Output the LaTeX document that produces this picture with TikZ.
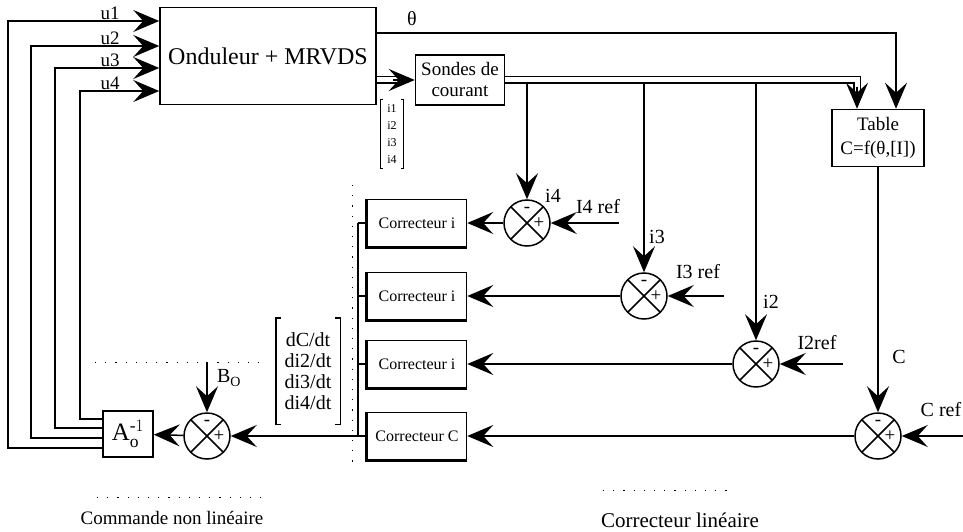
\documentclass[tikz,border=0pt]{standalone}
\usepackage{amsmath}
\usepackage{fontspec}
\setmainfont{Liberation Serif}
\usetikzlibrary{arrows.meta,calc}

\begin{document}
\begin{tikzpicture}[x=1pt,y=-1pt,line width=1.5pt,
	arr/.style={-{Stealth[length=26pt,width=22pt,inset=10pt]}},
	dbl/.style={double,double distance=5pt},
	blk/.style={draw,inner sep=0pt,align=center},
	corr/.style={blk,minimum width=99pt,minimum height=47pt,font=\fontsize{16}{16}\selectfont},
	sum/.style={circle,draw,minimum size=46pt,inner sep=0pt,path picture={\draw (path picture bounding box.north west) -- (path picture bounding box.south east) (path picture bounding box.north east) -- (path picture bounding box.south west);}},
	sgn/.style={font=\fontsize{19}{19}\selectfont,inner sep=0pt},
	lbl/.style={font=\fontsize{20}{20}\selectfont,inner sep=1pt},
	ulbl/.style={font=\fontsize{19}{19}\selectfont,inner sep=1pt,anchor=south},
	dots/.style={line width=1pt,dash pattern=on 1.2pt off 9pt}]
	\useasboundingbox (0,0) rectangle (963,532);
	\node[blk,minimum width=216pt,minimum height=97pt,font=\fontsize{24}{28}\selectfont] at (268,56) (ond) {Onduleur + MRVDS};
	\node[blk,minimum width=89pt,minimum height=50pt,font=\fontsize{19}{21}\selectfont] at (460,80) (sond) {Sondes de\\courant};
	\node[blk,minimum width=92pt,minimum height=57pt,font=\fontsize{19}{24}\selectfont] at (878,138) (table) {Table\\C=f(θ,[I])};
	\node[font=\fontsize{12}{17}\selectfont,align=center,minimum width=22pt,minimum height=67pt,inner sep=0pt] at (392,134) (ivec) {i1\\i2\\i3\\i4};
	\node[corr] at (417,223) (ci4) {Correcteur i};
	\node[corr] at (417,296) (ci3) {Correcteur i};
	\node[corr] at (417,364) (ci2) {Correcteur i};
	\node[corr] at (417,436) (cc) {Correcteur C};
	\node[sum] at (527,223) (si4) {};
	\node[sum] at (644,296) (si3) {};
	\node[sum] at (756,364) (si2) {};
	\node[sum] at (878,436) (sc) {};
	\node[sum] at (207,436) (sb) {};
	\node[blk,minimum width=50pt,minimum height=46pt,font=\fontsize{25}{25}\selectfont] at (128,434) (ainv) {$\mathrm{A}^{\text{-}1}_{\mathrm{o}}$};
	\node[font=\fontsize{20}{21}\selectfont,align=center,minimum width=63pt,minimum height=105pt,inner sep=0pt] at (308,371) (dvec) {dC/dt\\di2/dt\\di3/dt\\di4/dt};
	\node[font=\fontsize{19}{19}\selectfont] at (172,518) (cnl) {Commande non linéaire};
	\node[font=\fontsize{21}{21}\selectfont] at (680,520) (clin) {Correcteur linéaire};

	\draw[line width=1.2pt] ([xshift=3pt]ivec.north west) -- (ivec.north west) -- (ivec.south west) -- ([xshift=3pt]ivec.south west);
	\draw[line width=1.2pt] ([xshift=-3pt]ivec.north east) -- (ivec.north east) -- (ivec.south east) -- ([xshift=-3pt]ivec.south east);
	\draw ([xshift=5pt]dvec.north west) -- (dvec.north west) -- (dvec.south west) -- ([xshift=5pt]dvec.south west);
	\draw ([xshift=-5pt]dvec.north east) -- (dvec.north east) -- (dvec.south east) -- ([xshift=-5pt]dvec.south east);
	\foreach \c in {ci4,ci3,ci2,cc}
		\draw[line width=3pt] (\c.north west) -- (\c.south west) -- (\c.south east);

	\foreach \yi/\xl/\yo [count=\k] in {21/8/448,46/31/438,68/55/428,91/80/419}{
		\draw[arr] (ainv.west |- 0,\yo) -| (\xl,\yi) -- (ond.west |- 0,\yi);
		\node[ulbl] at (110,\yi) {u\k};
	}

	\coordinate (th) at (896,33);
	\draw[arr] (ond.east |- th) -- (th) -- (th |- table.north);
	\node[lbl] at (412,19) {θ};

	\draw[dbl,shorten >=14pt] (ond.east |- sond.west) -- (sond.west);
	\draw[arr] ([xshift=-22pt]sond.west) -- (sond.west);
	\coordinate (dj) at (857,80);
	\draw[dbl,shorten >=14pt] (sond.east) -- (dj) -- (dj |- table.north);
	\draw[arr] ($(dj |- table.north)+(0,-22)$) -- (dj |- table.north);

	\coordinate (bus) at (0,84);
	\foreach \s in {si4,si3,si2}
		\draw[arr] (\s.north |- bus) -- (\s.north);
	\node[lbl] at (553,196) {i4};
	\node[lbl] at (657,237) {i3};
	\node[lbl] at (771,302) {i2};
	\draw[arr] (table.south) -- (sc.north);
	\node[lbl] at (899,357) {C};

	\draw[arr] ([xshift=68pt]si4.east) -- (si4.east);
	\draw[arr] ([xshift=56pt]si3.east) -- (si3.east);
	\draw[arr] ([xshift=63pt]si2.east) -- (si2.east);
	\draw[arr] ([xshift=63pt]sc.east) -- (sc.east);
	\node[lbl] at (598,207) {I4 ref};
	\node[lbl] at (698,272) {I3 ref};
	\node[lbl] at (817,343) {I2ref};
	\node[lbl] at (941,410) {C ref};

	\foreach \s in {si4,si3,si2,sc,sb}{
		\node[sgn] at ([yshift=13pt]\s.center) {-};
		\node[sgn] at ([xshift=12pt]\s.center) {+};
	}
	\foreach \s/\c in {si4/ci4,si3/ci3,si2/ci2,sc/cc}
		\path[arr] (\s) edge (\c);

	\coordinate (bx) at (358,0);
	\draw (ci4.west -| bx) -- (cc.west -| bx);
	\foreach \c in {ci4,ci3,ci2,cc}
		\draw (\c.west) -- (\c.west -| bx);
	\draw[arr] (cc.west -| bx) -- (sb.east);
	\path[arr] (sb) edge (ainv);
	\draw[arr] ([yshift=50pt]sb.north) -- (sb.north);
	\node[lbl] at (229,378) {$\mathrm{B}_{\mathrm{O}}$};

	\draw[dots] (352,185) -- (352,470);
	\draw[dots] (95,362) -- (262,362);
	\draw[dots] (97,497) -- (262,497);
	\draw[dots] (603,490) -- (730,490);
\end{tikzpicture}
\end{document}
